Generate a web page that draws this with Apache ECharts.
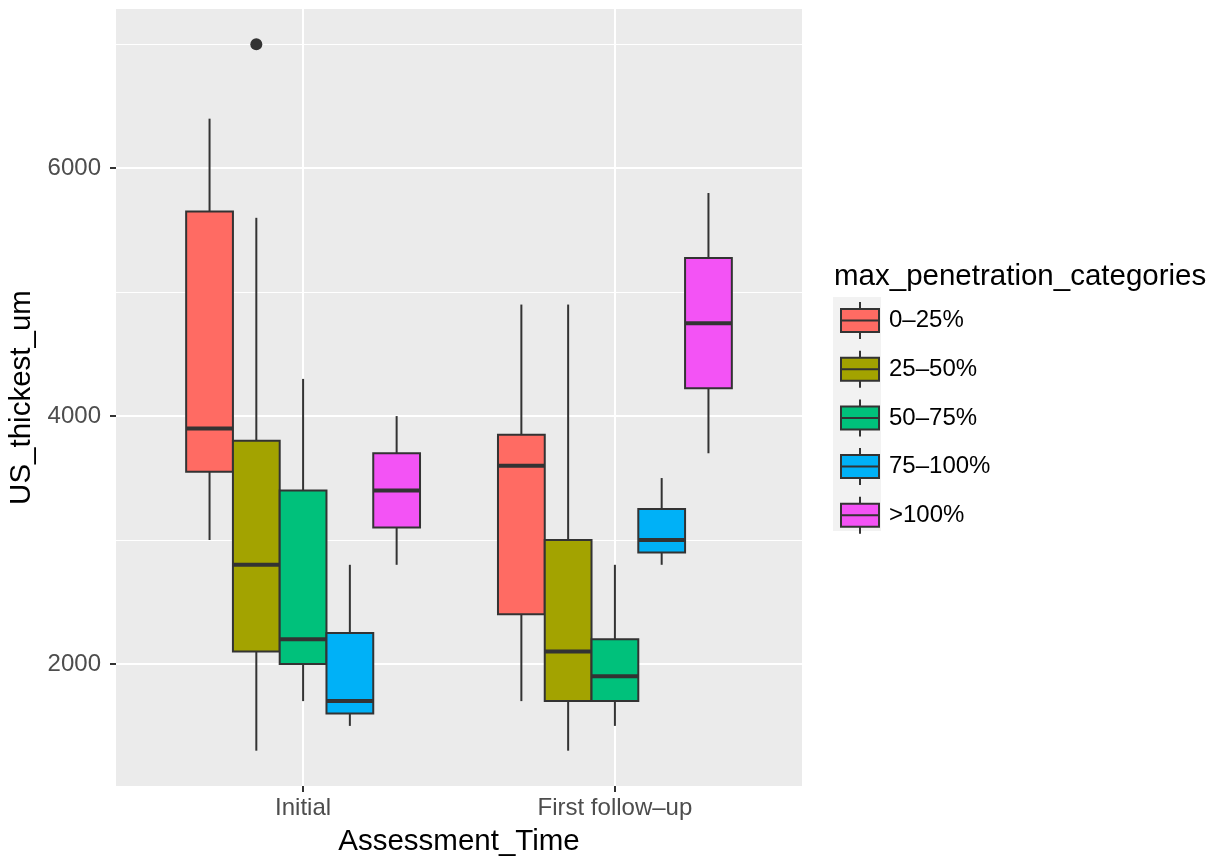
<!DOCTYPE html>
<html>
<head>
<meta charset="utf-8">
<title>US_thickest_um by Assessment_Time</title>
<script src="https://cdn.jsdelivr.net/npm/echarts@6/dist/echarts.min.js"></script>
<style>
  html, body { margin: 0; padding: 0; background: #ffffff; }
  #chart { width: 1223px; height: 856px; }
</style>
</head>
<body>
<div id="chart"></div>
<script>
// Assessment times on the x axis
const categories = ['Initial', 'First follow–up'];

// Penetration groups (dodged boxes within each assessment time)
const groups = ['0–25%', '25–50%', '50–75%', '75–100%', '>100%'];
const groupColors = ['#FF6B63', '#A3A300', '#00C17B', '#00B1F7', '#F353F5'];

// Box statistics per group: one row per assessment time
// [lower whisker, Q1, median, Q3, upper whisker]
const stats0to25 = [
  [3000, 3550, 3900, 5650, 6400],
  [1700, 2400, 3600, 3850, 4900]
];
const stats25to50 = [
  [1300, 2100, 2800, 3800, 5600],
  [1300, 1700, 2100, 3000, 4900]
];
const stats50to75 = [
  [1700, 2000, 2200, 3400, 4300],
  [1500, 1700, 1900, 2200, 2800]
];
const stats75to100 = [
  [1500, 1600, 1700, 2250, 2800],
  [2800, 2900, 3000, 3250, 3500]
];
const statsOver100 = [
  [2800, 3100, 3400, 3700, 4000],
  [3700, 4225, 4750, 5275, 5800]
];
const groupStats = [stats0to25, stats25to50, stats50to75, stats75to100, statsOver100];

// Outlying points: [group index, category index, value]
const outliers = [
  [1, 0, 7000]
];

// Y axis ticks
const yMajorTicks = [2000, 4000, 6000];
const yMinorTicks = [3000, 5000, 7000];

// Layout of the dodged boxes (in x-axis units, one unit per assessment time)
const BOX_WIDTH = 0.15;
function groupOffset(g) { return (g - (groups.length - 1) / 2) * BOX_WIDTH; }

const FONT = '"Liberation Sans", Arial, Helvetica, sans-serif';
const INK = '#333333';

function renderBox(params, api) {
  const g = params.seriesIndex;
  const x = api.value(0) + groupOffset(g);
  const lo = api.value(1), q1 = api.value(2), med = api.value(3), q3 = api.value(4), hi = api.value(5);
  const xl = api.coord([x - BOX_WIDTH / 2, q1])[0];
  const xr = api.coord([x + BOX_WIDTH / 2, q1])[0];
  const xc = api.coord([x, q1])[0];
  const yLo = api.coord([x, lo])[1];
  const yQ1 = api.coord([x, q1])[1];
  const yMed = api.coord([x, med])[1];
  const yQ3 = api.coord([x, q3])[1];
  const yHi = api.coord([x, hi])[1];
  const lineStyle = { stroke: INK, lineWidth: 2 };
  return {
    type: 'group',
    children: [
      { type: 'line', shape: { x1: xc, y1: yHi, x2: xc, y2: yQ3 }, style: lineStyle },
      { type: 'line', shape: { x1: xc, y1: yQ1, x2: xc, y2: yLo }, style: lineStyle },
      {
        type: 'rect',
        shape: { x: xl, y: yQ3, width: xr - xl, height: yQ1 - yQ3 },
        style: { fill: groupColors[g], stroke: INK, lineWidth: 2 }
      },
      { type: 'line', shape: { x1: xl, y1: yMed, x2: xr, y2: yMed }, style: { stroke: INK, lineWidth: 4 } }
    ]
  };
}

function renderOutlier(params, api) {
  const g = api.value(0);
  const x = api.value(1) + 1 + groupOffset(g);
  const p = api.coord([x, api.value(2)]);
  return { type: 'circle', shape: { cx: p[0], cy: p[1], r: 6 }, style: { fill: INK } };
}

const series = groups.map((name, g) => ({
  name: name,
  type: 'custom',
  renderItem: renderBox,
  itemStyle: { color: groupColors[g], borderColor: INK, borderWidth: 2 },
  encode: { x: 0, y: [1, 2, 3, 4, 5] },
  data: groupStats[g].map((s, i) => [i + 1].concat(s)),
  z: 3
}));

series.push({
  name: 'outliers',
  type: 'custom',
  renderItem: renderOutlier,
  encode: { x: 1, y: 2 },
  data: outliers,
  z: 4
});

// Key glyph: whiskers, box and median bar
const keyIcon = 'path://M19,0L19,7M0,7L38,7L38,30L0,30ZM0,18.5L38,18.5M19,30L19,37';

const chart = echarts.init(document.getElementById('chart'), null, { renderer: 'canvas' });
chart.setOption({
  backgroundColor: '#ffffff',
  animation: false,
  title: {
    text: 'max_penetration_categories',
    left: 834,
    top: 262,
    padding: 0,
    textStyle: { fontFamily: FONT, fontSize: 29.5, fontWeight: 'normal', color: '#000000' }
  },
  legend: {
    orient: 'vertical',
    left: 840,
    top: 301,
    padding: 0,
    itemWidth: 38,
    itemHeight: 37,
    itemGap: 9.7,
    icon: keyIcon,
    data: groups,
    selectedMode: false,
    itemStyle: { borderColor: INK, borderWidth: 2 },
    textStyle: { fontFamily: FONT, fontSize: 24, color: '#000000', padding: [0, 0, 0, 5] }
  },
  graphic: [
    {
      type: 'rect',
      left: 833,
      top: 297,
      shape: { width: 48, height: 234 },
      style: { fill: '#F2F2F2' },
      z: -1
    }
  ],
  grid: {
    left: 116,
    top: 9,
    right: 421,
    bottom: 70,
    containLabel: false,
    outerBoundsMode: 'none',
    show: true,
    backgroundColor: '#EBEBEB',
    borderWidth: 0
  },
  xAxis: {
    type: 'value',
    min: 0.4,
    max: 2.6,
    name: 'Assessment_Time',
    nameLocation: 'middle',
    nameGap: 41,
    nameTextStyle: { fontFamily: FONT, fontSize: 29.5, color: '#000000' },
    axisLine: { show: false },
    axisTick: { show: true, length: 6, customValues: [1, 2], lineStyle: { color: INK, width: 2 } },
    axisLabel: {
      customValues: [1, 2],
      margin: 10,
      fontFamily: FONT,
      fontSize: 24,
      color: '#4D4D4D',
      formatter: v => categories[Math.round(v) - 1]
    },
    splitLine: { show: true, lineStyle: { color: '#ffffff', width: 2 } }
  },
  yAxis: [
    {
      type: 'value',
      min: 1015,
      max: 7285,
      name: 'US_thickest_um',
      nameLocation: 'middle',
      nameRotate: 90,
      nameGap: 72,
      nameTextStyle: { fontFamily: FONT, fontSize: 29.5, color: '#000000' },
      axisLine: { show: false },
      axisTick: { show: true, length: 6, customValues: yMajorTicks, lineStyle: { color: INK, width: 2 } },
      axisLabel: {
        customValues: yMajorTicks,
        margin: 15,
        fontFamily: FONT,
        fontSize: 24,
        color: '#4D4D4D',
        formatter: v => String(v)
      },
      splitLine: { show: true, lineStyle: { color: '#ffffff', width: 2 } }
    },
    {
      type: 'value',
      min: 1015,
      max: 7285,
      position: 'left',
      axisLine: { show: false },
      axisTick: { show: false, customValues: yMinorTicks },
      axisLabel: { show: false, customValues: yMinorTicks },
      splitLine: { show: true, lineStyle: { color: '#ffffff', width: 1 } }
    }
  ],
  series: series
});
</script>
</body>
</html>
